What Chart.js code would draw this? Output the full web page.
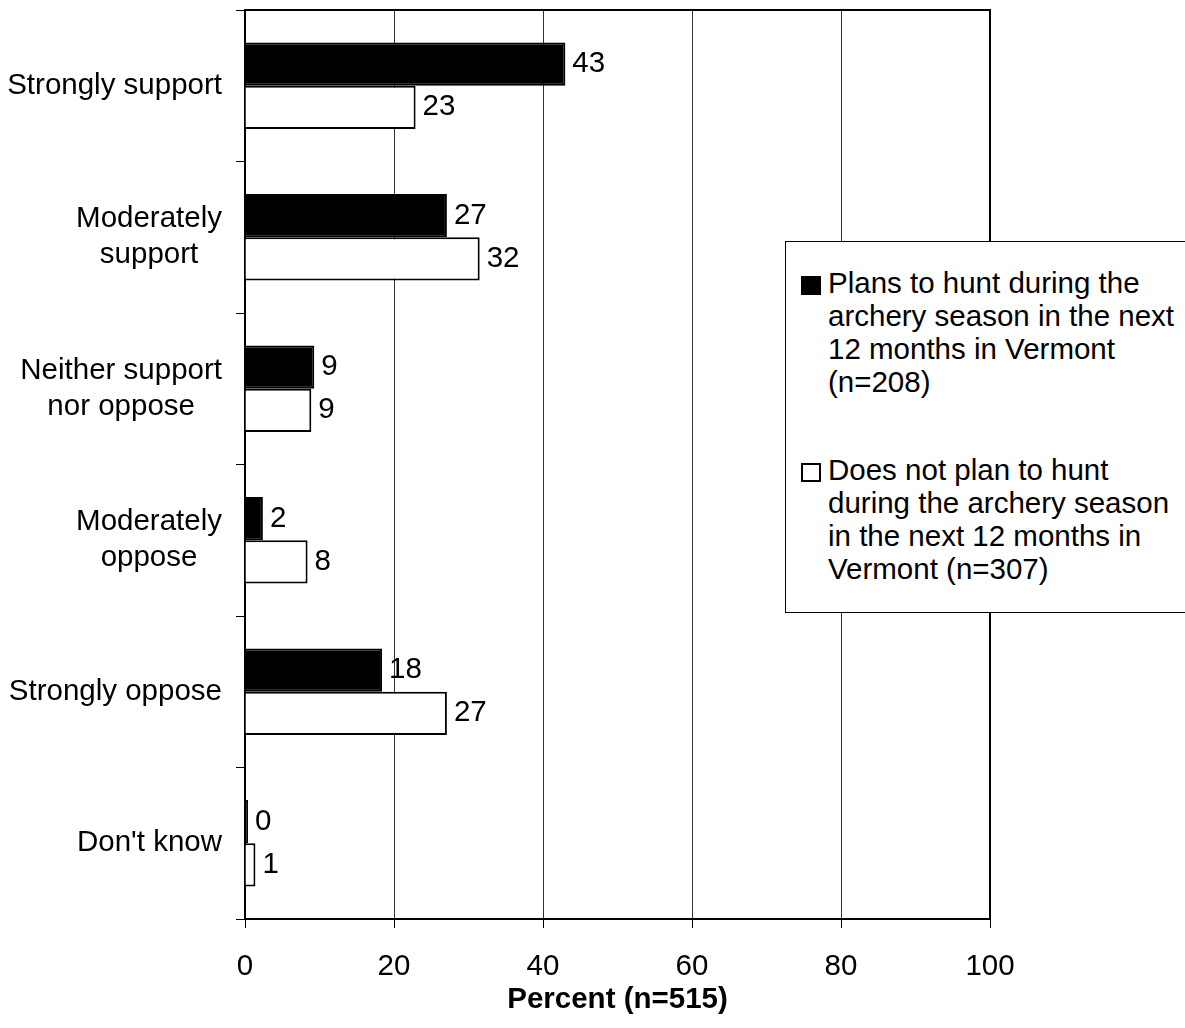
<!DOCTYPE html>
<html>
<head>
<meta charset="utf-8">
<script src="https://cdn.jsdelivr.net/npm/chart.js@4.4.0/dist/chart.umd.min.js"></script>
<style>
  html, body { margin: 0; padding: 0; background: #fff; }
  #wrap { position: relative; width: 1185px; height: 1028px; overflow: hidden; }
  #legend {
    position: absolute; left: 785px; top: 241px; width: 420px; height: 372px;
    border: 1px solid #000; background: #fff; box-sizing: border-box;
    font-family: Arial, "Liberation Sans", sans-serif; font-size: 29.5px; line-height: 33px; color: #000;
  }
  .item { position: absolute; left: 0; white-space: nowrap; }
  .swatch { position: absolute; left: 15px; width: 20px; height: 19px; box-sizing: border-box; border: 2px solid #000; }
  .text { position: absolute; left: 42px; }
</style>
</head>
<body>
<div id="wrap">
  <canvas id="surveyChart" width="1185" height="1028"></canvas>
  <div id="legend"></div>
</div>
<script>
// categories (each entry is the lines of the axis label)
const categories = [
    ['Strongly support'],
    ['Moderately', 'support'],
    ['Neither support', 'nor oppose'],
    ['Moderately', 'oppose'],
    ['Strongly oppose'],
    ["Don't know"]
];

// series names, as they wrap in the legend
const seriesNames = [
    ['Plans to hunt during the', 'archery season in the next', '12 months in Vermont', '(n=208)'],
    ['Does not plan to hunt', 'during the archery season', 'in the next 12 months in', 'Vermont (n=307)']
];

// percent values
const plansValues = [43, 27.1, 9.3, 2.4, 18.4, 0.4];
const notPlansValues = [22.9, 31.5, 8.9, 8.4, 27.1, 1.4];

const seriesColors = ['#000000', '#ffffff'];
const xTitle = 'Percent (n=515)';

const FONT = 'Arial, "Liberation Sans", sans-serif';
const FSIZE = 29.5;

// build the html legend
const legendEl = document.getElementById('legend');
const legendTops = [{ swatch: 34, text: 24 }, { swatch: 221, text: 211 }];
seriesNames.forEach(function (lines, i) {
    const item = document.createElement('div');
    item.className = 'item';
    const sw = document.createElement('div');
    sw.className = 'swatch';
    sw.style.top = legendTops[i].swatch + 'px';
    sw.style.background = seriesColors[i];
    const tx = document.createElement('div');
    tx.className = 'text';
    tx.style.top = legendTops[i].text + 'px';
    tx.innerHTML = lines.join('<br>');
    item.appendChild(sw);
    item.appendChild(tx);
    legendEl.appendChild(item);
});

// category labels, each line centred on the widest line
const yLabelPlugin = {
    id: 'yLabels',
    afterDraw(chart) {
        const ctx = chart.ctx;
        const yScale = chart.scales.y;
        ctx.save();
        ctx.font = FSIZE + 'px ' + FONT;
        ctx.fillStyle = '#000';
        ctx.textAlign = 'center';
        ctx.textBaseline = 'middle';
        categories.forEach(function (lines, i) {
            const cy = yScale.getPixelForValue(i);
            const w = Math.max.apply(null, lines.map(function (l) { return ctx.measureText(l).width; }));
            const cx = yScale.right - 23 - w / 2;
            lines.forEach(function (l, j) {
                ctx.fillText(l, cx, cy + (j - (lines.length - 1) / 2) * 36);
            });
        });
        ctx.restore();
    }
};

// value labels at the end of each bar, plus the top/right frame
const valuePlugin = {
    id: 'values',
    afterDatasetsDraw(chart) {
        const ctx = chart.ctx;
        const area = chart.chartArea;
        ctx.save();
        ctx.strokeStyle = '#000';
        ctx.lineWidth = 2;
        ctx.beginPath();
        ctx.moveTo(area.left, area.top);
        ctx.lineTo(area.right, area.top);
        ctx.lineTo(area.right, area.bottom);
        ctx.stroke();

        ctx.font = FSIZE + 'px ' + FONT;
        ctx.fillStyle = '#000';
        ctx.textAlign = 'left';
        ctx.textBaseline = 'middle';
        chart.data.datasets.forEach(function (ds, di) {
            chart.getDatasetMeta(di).data.forEach(function (bar, i) {
                ctx.fillText(String(Math.round(ds.data[i])), bar.x + 7, bar.y);
            });
        });
        ctx.restore();
    }
};

const data = {
    labels: categories,
    datasets: [{
        label: seriesNames[0].join(' '),
        data: plansValues,
        backgroundColor: seriesColors[0],
        borderColor: '#000',
        borderWidth: 2
    }, {
        label: seriesNames[1].join(' '),
        data: notPlansValues,
        backgroundColor: seriesColors[1],
        borderColor: '#000',
        borderWidth: 2
    }]
};

const config = {
    type: 'bar',
    data: data,
    plugins: [yLabelPlugin, valuePlugin],
    options: {
        indexAxis: 'y',
        responsive: false,
        animation: false,
        categoryPercentage: 0.57,
        barPercentage: 1.0,
        layout: { padding: { left: 0, top: 10, right: 195, bottom: 0 } },
        plugins: {
            legend: { display: false },
            tooltip: { enabled: false }
        },
        scales: {
            x: {
                min: 0,
                max: 100,
                ticks: {
                    stepSize: 20,
                    color: '#000',
                    padding: 21,
                    font: { family: FONT, size: FSIZE }
                },
                grid: { color: '#333', lineWidth: 1, tickLength: 9, tickColor: '#000' },
                border: { display: true, color: '#000', width: 2 },
                title: {
                    display: true,
                    text: xTitle,
                    color: '#000',
                    font: { family: FONT, size: FSIZE, weight: 'bold' },
                    padding: { top: 2, bottom: 10 }
                },
                afterFit(scale) { scale.height = 109; }
            },
            y: {
                ticks: { display: false },
                grid: { drawOnChartArea: false, drawTicks: true, tickLength: 9, color: '#000', offset: true },
                border: { display: true, color: '#000', width: 2 },
                afterFit(scale) { scale.width = 245; }
            }
        }
    }
};

const surveyChart = new Chart(document.getElementById('surveyChart'), config);
</script>
</body>
</html>
